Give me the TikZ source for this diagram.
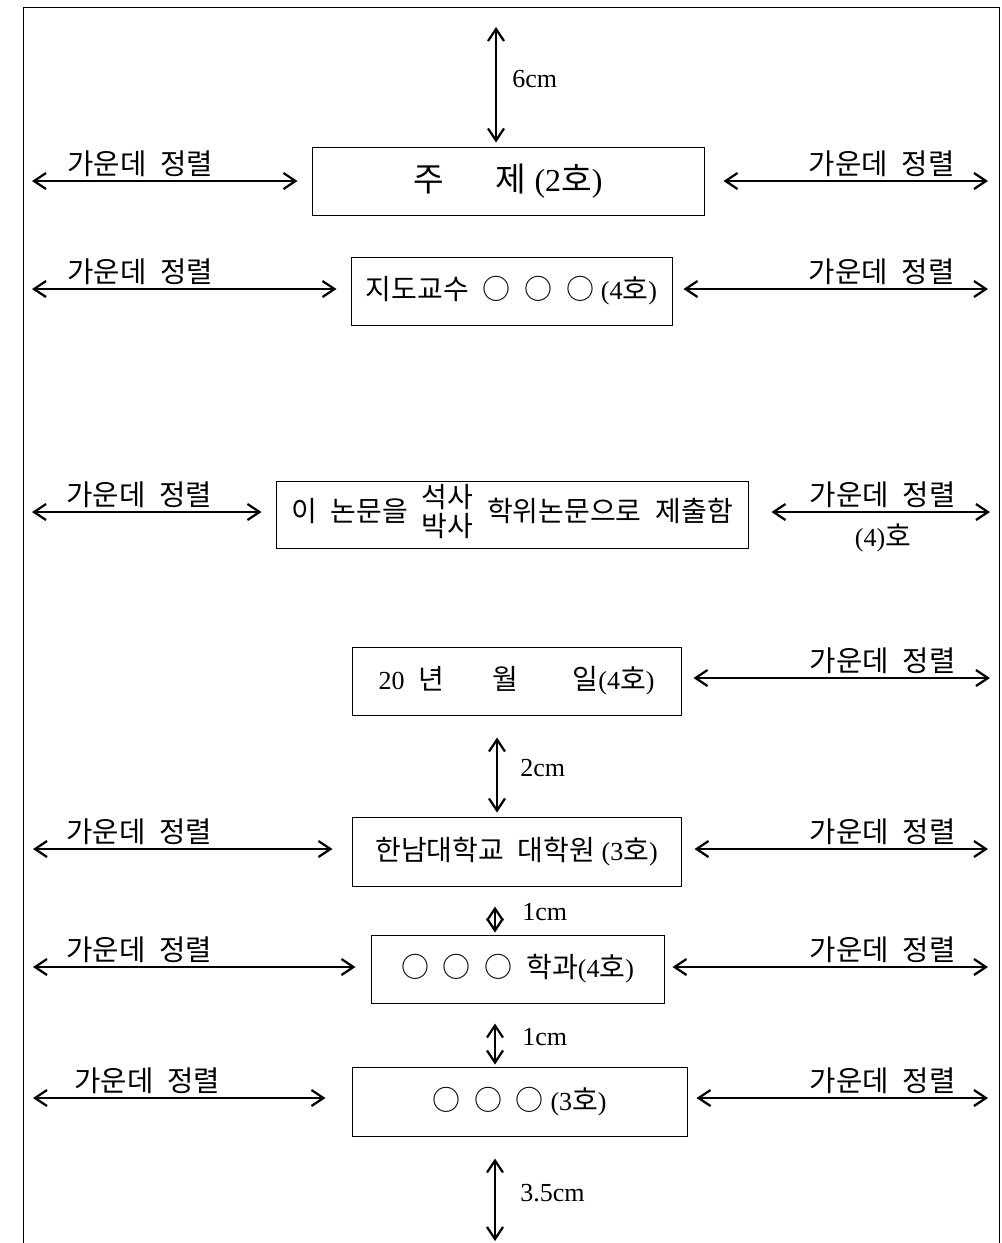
\documentclass[tikz,border=0pt]{standalone}
\usepackage{fontspec}
\setmainfont{Liberation Serif}
\newfontfamily\kr[WordSpace=2.2]{Noto Sans CJK KR}
\newcommand{\K}[1]{{\fontsize{21}{24}\kr #1}}
\usetikzlibrary{arrows.meta}
\begin{document}
\begin{tikzpicture}[x=0.75pt,y=-0.75pt,
  frame/.style={line width=0.75pt, black},
  box/.style={draw, line width=0.75pt, inner sep=0pt, anchor=center, font=\fontsize{19.5}{22}\selectfont},
  dim/.style={line width=1.7pt, {Straight Barb[length=9pt,width=12pt]}-{Straight Barb[length=9pt,width=12pt]}},
  lbl/.style={inner sep=0pt, font=\fontsize{21.5}{24}\kr},
  cmlbl/.style={inner sep=0pt, anchor=west, font=\fontsize{19.5}{22}\selectfont}
]
\useasboundingbox (0,0) rectangle (1001,1243);
% frame
\draw[frame] (23,1243) -- (23,7) -- (999.5,7) -- (999.5,1243);

% boxes
\node[box, minimum width=294pt, minimum height=51pt, font=\fontsize{24}{28}\selectfont] (b1) at (508,181)
  {{\fontsize{25}{28}\kr 주\hspace{1.55em}제} (2{\fontsize{25}{28}\kr 호})};
\node[box, minimum width=240.75pt, minimum height=51pt] (b2) at (511.5,291)
  {\K{지도교수 ○ ○ ○} (4\K{호})};
\node[box, minimum width=354pt, minimum height=50.25pt] (b3) at (512,514.5)
  {\K{이 논문을 }{\kr\fontsize{21}{21}\selectfont\begin{tabular}{@{}c@{}}석사\\[-2pt]박사\end{tabular}}\K{\ 학위논문으로 제출함}};
\node[box, minimum width=246.75pt, minimum height=51pt] (b4) at (516.5,681)
  {20\hspace{0.55em}\K{년\hspace{1.7em}월\hspace{1.95em}일}(4\K{호})};
\node[box, minimum width=246.75pt, minimum height=51.75pt] (b5) at (516.5,851.5)
  {\K{한남대학교 대학원} (3\K{호})};
\node[box, minimum width=219.75pt, minimum height=51pt] (b6) at (517.5,969)
  {\K{○ ○ ○ 학과}(4\K{호})};
\node[box, minimum width=251.25pt, minimum height=51.75pt] (b7) at (519.5,1101.5)
  {\K{○ ○ ○} (3\K{호})};

% free ends of horizontal arrows
\coordinate (L1) at (32,181);  \coordinate (R1) at (988,181);
\coordinate (L2) at (32,289);  \coordinate (R2) at (988,289);
\coordinate (L3) at (32,512);  \coordinate (R3) at (990,512);
\coordinate (R4) at (990,678);
\coordinate (L5) at (33,849);  \coordinate (R5) at (988,849);
\coordinate (L6) at (33,967);  \coordinate (R6) at (988,967);
\coordinate (L7) at (33,1098); \coordinate (R7) at (988,1098);

\draw[dim, shorten >=10.5pt] (L1) -- (L1 -| b1.west);
\draw[dim, shorten <=14.25pt] (R1 -| b1.east) -- (R1);
\draw[dim, shorten >=10.5pt] (L2) -- (L2 -| b2.west);
\draw[dim, shorten <=8.25pt] (R2 -| b2.east) -- (R2);
\draw[dim, shorten >=10.5pt] (L3) -- (L3 -| b3.west);
\draw[dim, shorten <=17.25pt] (R3 -| b3.east) -- (R3);
\draw[dim, shorten <=9pt] (R4 -| b4.east) -- (R4);
\draw[dim, shorten >=14.25pt] (L5) -- (L5 -| b5.west);
\draw[dim, shorten <=9.75pt] (R5 -| b5.east) -- (R5);
\draw[dim, shorten >=11.25pt] (L6) -- (L6 -| b6.west);
\draw[dim, shorten <=6pt] (R6 -| b6.east) -- (R6);
\draw[dim, shorten >=19.5pt] (L7) -- (L7 -| b7.west);
\draw[dim, shorten <=6.75pt] (R7 -| b7.east) -- (R7);

% labels above arrows
\node[lbl, anchor=base west] (tl1) at (67,174) {가운데 정렬};
\node[lbl, anchor=base east] (tr1) at (955,174) {가운데 정렬};
\node[lbl, anchor=base west] (tl2) at (67,282) {가운데 정렬};
\node[lbl, anchor=base east] (tr2) at (955,282) {가운데 정렬};
\node[lbl, anchor=base west] (tl3) at (66,505) {가운데 정렬};
\node[lbl, anchor=base east] (tr3) at (956,505) {가운데 정렬};
\node[inner sep=0pt, font=\fontsize{19.5}{22}\selectfont] (t43) at (883,538) {(4)\K{호}};
\node[lbl, anchor=base east] (tr4) at (956,671) {가운데 정렬};
\node[lbl, anchor=base west] (tl5) at (66,842) {가운데 정렬};
\node[lbl, anchor=base east] (tr5) at (956,842) {가운데 정렬};
\node[lbl, anchor=base west] (tl6) at (66,960) {가운데 정렬};
\node[lbl, anchor=base east] (tr6) at (956,960) {가운데 정렬};
\node[lbl, anchor=base west] (tl7) at (74,1091) {가운데 정렬};
\node[lbl, anchor=base east] (tr7) at (956,1091) {가운데 정렬};

% vertical arrows
\coordinate (T0) at (496,27);
\coordinate (V2) at (497,0);
\coordinate (V1) at (495,0);
\coordinate (B0) at (495,1241);
\draw[dim, shorten >=3pt] (T0) -- (T0 |- b1.north);
\draw[dim, shorten <=16.5pt, shorten >=3pt] (V2 |- b4.south) -- (V2 |- b5.north);
\draw[dim, shorten <=15pt, shorten >=1.5pt] (V1 |- b5.south) -- (V1 |- b6.north);
\draw[dim, shorten <=15pt, shorten >=1.5pt] (V1 |- b6.south) -- (V1 |- b7.north);
\draw[dim, shorten <=16.5pt] (V1 |- b7.south) -- (B0);

\node[cmlbl] (c6) at (512,79) {6cm};
\node[cmlbl] (c2) at (520,768) {2cm};
\node[cmlbl] (c1a) at (522,912) {1cm};
\node[cmlbl] (c1b) at (522,1037) {1cm};
\node[cmlbl] (c35) at (520,1193) {3.5cm};
\end{tikzpicture}
\end{document}
